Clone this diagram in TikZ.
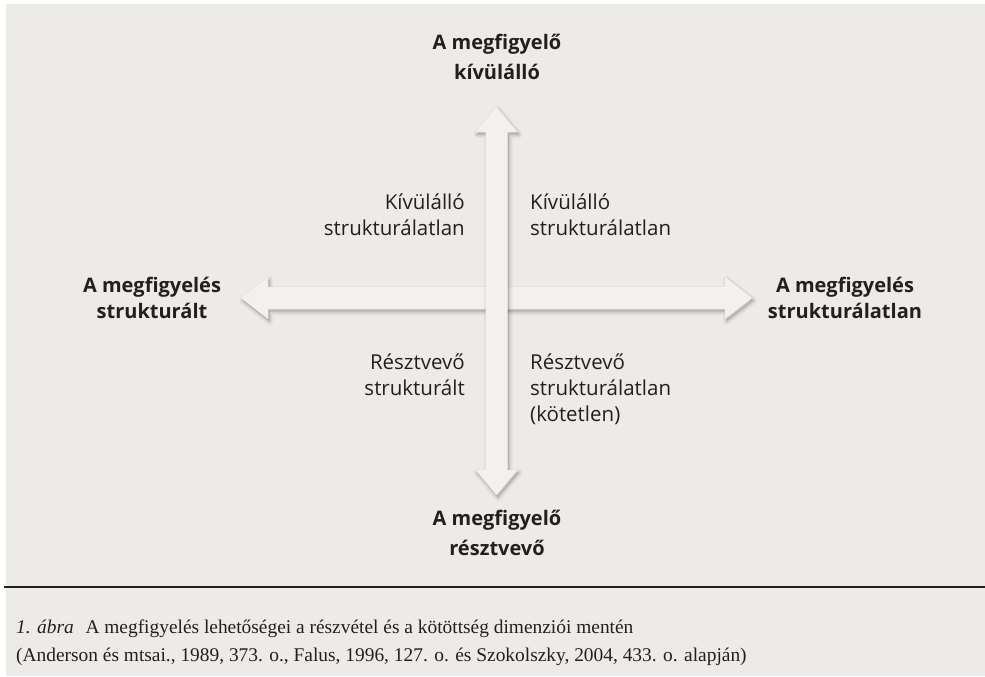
\documentclass[tikz,border=0pt]{standalone}
\usepackage{fontspec}
\setmainfont{Liberation Serif}
\newfontfamily\labelfont{Open Sans}
\definecolor{bg}{HTML}{ECEBE7}
\definecolor{arrowfill}{HTML}{F2F1EF}
\definecolor{ink}{HTML}{231F20}
\newcommand\hpathcoords{(241,298) -- (268,277) -- (268,287) -- (725,287) -- (725,277) -- (752,298) -- (725,319) -- (725,309) -- (268,309) -- (268,319) -- cycle}
\newcommand\vpathcoords{(496.5,107) -- (517.5,132) -- (507.5,132) -- (507.5,470) -- (517.5,470) -- (496.5,495) -- (475.5,470) -- (485.5,470) -- (485.5,132) -- (475.5,132) -- cycle}
\tikzset{
  arrowbody/.style={fill=arrowfill, draw=none},
  shadowlayer/.style={draw=black, fill=none, line join=round, shift={(1.5,2.5)}},
  shadowcore/.style={fill=black, draw=none, fill opacity=0.12, shift={(1.5,2.5)}},
  boldlabel/.style={font=\labelfont\bfseries\fontsize{20}{29.5}\selectfont, text=ink, align=center, inner sep=0pt},
  sidelabel/.style={font=\labelfont\bfseries\fontsize{20}{26.5}\selectfont, text=ink, align=center, inner sep=0pt},
  plainlabel/.style={font=\labelfont\fontsize{20.5}{26}\selectfont, text=ink, inner sep=0pt},
  captiontext/.style={font=\fontsize{19.4}{28}\selectfont, text=ink, align=left, inner sep=0pt, anchor=north west}
}
\begin{document}
\begin{tikzpicture}[x=1pt, y=-1pt]
\useasboundingbox (0,0) rectangle (985,677);
\fill[white] (0,0) rectangle (985,677);
\fill[bg] (6,4) rectangle (985,676);
% horizontal arrow with soft shadow
\foreach \w/\o in {7/0.035, 4.5/0.045, 2/0.06}{
  \path[shadowlayer, line width=\w pt, draw opacity=\o] \hpathcoords;
}
\path[shadowcore] \hpathcoords;
\path[arrowbody] \hpathcoords;
% vertical arrow with soft shadow
\foreach \w/\o in {7/0.035, 4.5/0.045, 2/0.06}{
  \path[shadowlayer, line width=\w pt, draw opacity=\o] \vpathcoords;
}
\path[shadowcore] \vpathcoords;
\path[arrowbody] \vpathcoords;
% end labels
\node[boldlabel] (top) at (497,57) {A megfigyelő\\kívülálló};
\node[boldlabel] (bottom) at (497,533) {A megfigyelő\\résztvevő};
\node[sidelabel] (left) at (152,298) {A megfigyelés\\strukturált};
\node[sidelabel] (right) at (845,298) {A megfigyelés\\strukturálatlan};
% quadrant labels
\node[plainlabel, align=right, anchor=north east] (ul) at (465,194) {Kívülálló\\strukturálatlan};
\node[plainlabel, align=left, anchor=north west] (ur) at (530,194) {Kívülálló\\strukturálatlan};
\node[plainlabel, align=right, anchor=north east] (ll) at (465,354) {Résztvevő\\strukturált};
\node[plainlabel, align=left, anchor=north west] (lr) at (530,354) {Résztvevő\\strukturálatlan\\(kötetlen)};
% separator
\draw[ink, line width=2.2pt] (4,587) -- (985,587);
% caption
\node[captiontext] (cap) at (16,620) {\textit{1. ábra}\hspace{0.6em}A megfigyelés lehetőségei a részvétel és a kötöttség dimenziói mentén\\(Anderson és mtsai., 1989, 373. o., Falus, 1996, 127. o. és Szokolszky, 2004, 433. o. alapján)};
\end{tikzpicture}
\end{document}
